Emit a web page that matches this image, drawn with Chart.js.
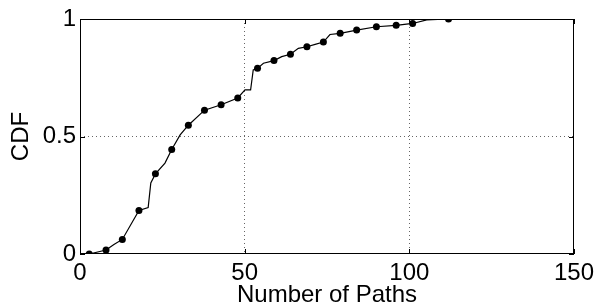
<!DOCTYPE html>
<html>
<head>
<meta charset="utf-8">
<script src="https://cdn.jsdelivr.net/npm/chart.js@4"></script>
<style>
  body { margin: 0; background: #fff; }
  #wrap { width: 603px; height: 308px; }
</style>
</head>
<body>
<div id="wrap"><canvas id="cdfChart" width="603" height="308"></canvas></div>
<script>
// CDF curve
const lineX = [2.8, 7.9, 10.3, 12.85, 17.9, 20.7, 21.5, 22.9, 25.8, 27.85, 30.4, 32.9, 37.8, 42.85, 47.9,
  50.1, 51.8, 52.6, 53.9, 55.7, 58.9, 61.25, 63.9, 66.3, 68.9, 71.4, 73.9, 75.9, 79.0, 84.0, 90.0,
  96.0, 101.0, 105.3, 111.9, 150];
const lineY = [0, 0.017, 0.04, 0.062, 0.185, 0.198, 0.302, 0.341, 0.387, 0.445, 0.507, 0.548, 0.612, 0.635, 0.664,
  0.698, 0.698, 0.783, 0.79, 0.812, 0.823, 0.84, 0.85, 0.875, 0.882, 0.892, 0.902, 0.934, 0.939, 0.953, 0.967,
  0.973, 0.981, 0.996, 1, 1];

// marker points
const markX = [2.8, 7.9, 12.85, 17.9, 22.9, 27.85, 32.9, 37.8, 42.85, 47.9, 53.9, 58.9, 63.9, 68.9, 73.9,
  79.0, 84.0, 90.0, 96.0, 101.0, 111.9];
const markY = [0, 0.017, 0.062, 0.185, 0.341, 0.445, 0.548, 0.612, 0.635, 0.664, 0.79, 0.823, 0.85, 0.882, 0.902,
  0.939, 0.953, 0.967, 0.973, 0.981, 1];

const xTicks = [0, 50, 100, 150];
const yTicks = [0, 0.5, 1];

const FONT = 'Liberation Sans, Arial, Helvetica, sans-serif';

// box around the plot + little inward tick marks
const boxPlugin = {
  id: 'box',
  afterDraw(chart) {
    const { ctx, chartArea: a, scales } = chart;
    ctx.save();
    ctx.strokeStyle = '#000';
    ctx.lineWidth = 1;
    ctx.strokeRect(a.left + 0.5, a.top + 0.5, a.right - a.left - 1, a.bottom - a.top - 1);
    ctx.beginPath();
    xTicks.forEach(v => {
      const px = Math.round(scales.x.getPixelForValue(v)) + 0.5;
      ctx.moveTo(px, a.bottom); ctx.lineTo(px, a.bottom - 5);
      ctx.moveTo(px, a.top); ctx.lineTo(px, a.top + 5);
    });
    yTicks.forEach(v => {
      const py = Math.round(scales.y.getPixelForValue(v)) + 0.5;
      ctx.moveTo(a.left, py); ctx.lineTo(a.left + 5, py);
      ctx.moveTo(a.right, py); ctx.lineTo(a.right - 5, py);
    });
    ctx.stroke();
    ctx.restore();
  }
};

const gridColor = c => {
  const v = c.tick.value;
  return (v === 0 || v === 150 || v === 1) ? 'rgba(0,0,0,0)' : '#666';
};

new Chart(document.getElementById('cdfChart').getContext('2d'), {
  type: 'scatter',
  data: {
    datasets: [{
      data: lineX.map((x, i) => ({ x: x, y: lineY[i] })),
      showLine: true,
      borderColor: '#000',
      borderWidth: 1.2,
      pointRadius: 0,
      tension: 0
    }, {
      data: markX.map((x, i) => ({ x: x, y: markY[i] })),
      showLine: false,
      pointRadius: 3.5,
      pointBackgroundColor: '#000',
      pointBorderColor: '#000',
      pointBorderWidth: 0
    }]
  },
  options: {
    responsive: false,
    animation: false,
    layout: { padding: { top: 19, right: 29, left: 0, bottom: 0 } },
    plugins: { legend: { display: false }, tooltip: { enabled: false } },
    scales: {
      x: {
        type: 'linear',
        min: 0, max: 150,
        afterBuildTicks: s => { s.ticks = xTicks.map(v => ({ value: v })); },
        afterFit: s => { s.height = 54; },
        grid: { color: gridColor, lineWidth: 1, drawTicks: false },
        border: { display: false, dash: [1, 3] },
        ticks: { color: '#000', padding: 5, font: { family: FONT, size: 24 }, callback: v => String(v) },
        title: {
          display: true, text: 'Number of Paths', color: '#000',
          font: { family: FONT, size: 24, lineHeight: 1 },
          padding: { top: 0, bottom: 1 }
        }
      },
      y: {
        min: 0, max: 1,
        afterBuildTicks: s => { s.ticks = yTicks.map(v => ({ value: v })); },
        afterFit: s => { s.width = 80; },
        grid: { color: gridColor, lineWidth: 1, drawTicks: false },
        border: { display: false, dash: [1, 3] },
        ticks: { color: '#000', padding: 4, font: { family: FONT, size: 24 }, callback: v => String(v) },
        title: {
          display: true, text: 'CDF', color: '#000',
          font: { family: FONT, size: 24, lineHeight: 1 },
          padding: { top: 9, bottom: 0 }
        }
      }
    }
  },
  plugins: [boxPlugin]
});
</script>
</body>
</html>
